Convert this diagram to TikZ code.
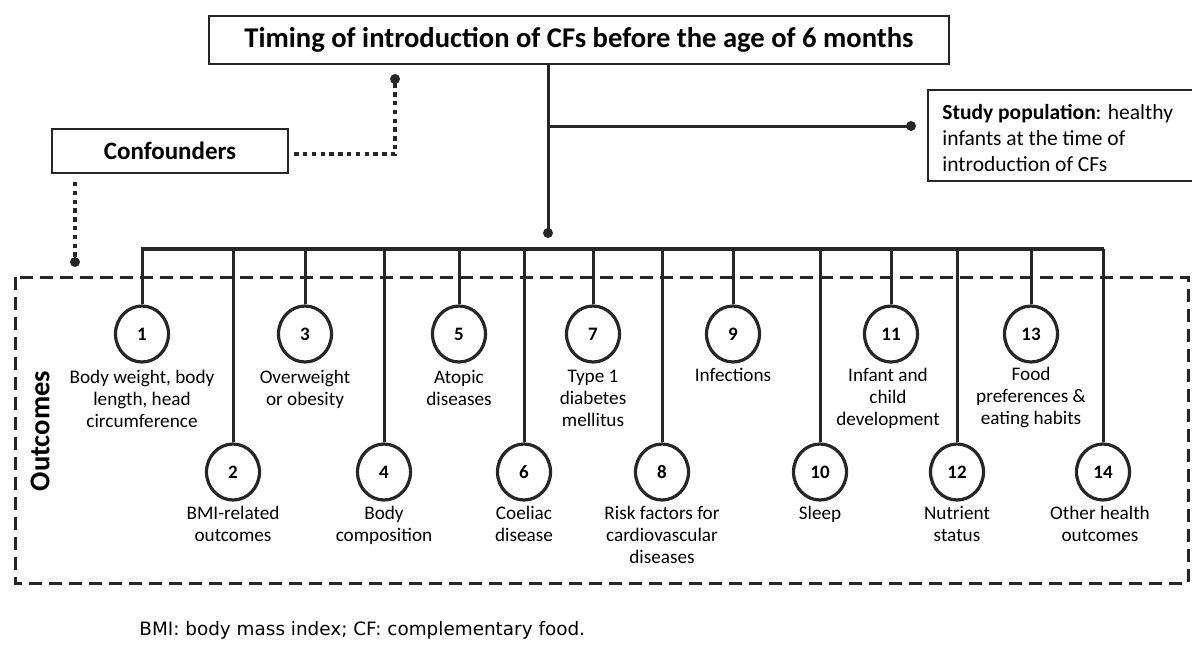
\documentclass[tikz,border=0pt]{standalone}
\usepackage{fontspec}
\usetikzlibrary{shapes.geometric}
\setmainfont{Carlito}
\newfontfamily\footfont{DejaVu Sans}
\begin{document}
\begin{tikzpicture}[x=0.5pt,y=-0.5pt,
  boxstyle/.style={draw=black!85,line width=1.1pt,inner sep=0pt},
  numcirc/.style={draw=black!85,line width=1.6pt,ellipse,minimum width=26.5pt,minimum height=28pt,inner sep=0pt,font=\bfseries\fontsize{9.5}{10}\selectfont},
  lbl/.style={align=center,anchor=north,inner sep=0pt,font=\fontsize{9.6}{11}\selectfont},
  stem/.style={draw=black!85,line width=1.5pt},
  thick bar/.style={draw=black!85,line width=2pt},
  dotline/.style={draw=black!85,line width=1.6pt,dash pattern=on 2.2pt off 2.2pt},
  dotend/.style={circle,fill=black!85,inner sep=0pt,minimum size=5pt},
]
\useasboundingbox (0,0) rectangle (1192,644);
% boxes
\node[boxstyle,minimum width=370pt,minimum height=24pt,font=\bfseries\fontsize{14.3}{16}\selectfont] (title) at (579,40) {Timing of introduction of CFs before the age of 6 months};
\node[boxstyle,minimum width=118pt,minimum height=22pt,font=\bfseries\fontsize{12.5}{14}\selectfont] (conf) at (170,151) {Confounders};
\draw[draw=black!85,line width=1.1pt] (1196,90) -- (928,90) -- (928,181) -- (1196,181);
\node[anchor=north west,align=left,inner sep=0pt,font=\fontsize{10.75}{13}\selectfont] (study) at (942,104) {\textbf{Study population}: healthy\\infants at the time of\\introduction of CFs};
% outcome area
\draw[draw=black!85,line width=1.5pt,dash pattern=on 6.5pt off 3.5pt] (15,277) rectangle (1188,583);
\node[rotate=90,inner sep=0pt,font=\bfseries\fontsize{14.3}{16}\selectfont] (outc) at (40,431) {Outcomes};
% trunk and branch
\coordinate (tdot) at (548,233);
\coordinate (bj) at (548,126);
\coordinate (sdot) at (911,126);
\draw[stem] (title.south -| tdot) -- (tdot);
\draw[stem] (bj) -- (sdot);
\node[dotend] at (tdot) {};
\node[dotend] at (sdot) {};
% confounder dotted links
\coordinate (cdA) at (395,154);
\coordinate (cdB) at (395,79);
\coordinate (cdC) at (75,182);
\coordinate (cdD) at (75,262);
\draw[dotline] ([xshift=2.5pt]conf.east |- cdA) -- (cdA) -- (cdB);
\node[dotend] at (cdB) {};
\draw[dotline] (cdC) -- (cdD);
\node[dotend] at (cdD) {};
% bar
\coordinate (barL) at (141,249);
\coordinate (barR) at (1104,249);
\draw[thick bar] (barL) -- (barR);
% circles
\foreach \n/\x/\y in {1/142/334,3/305/334,5/459/334,7/593/334,9/733/334,11/891/334,13/1031/334,
                     2/233/472,4/384/472,6/524/472,8/662/472,10/820/472,12/957/472,14/1103/472}{
  \node[numcirc] (c\n) at (\x,\y) {\n};
  \coordinate (b\n) at (\x,249);
  \draw[stem] (b\n) -- (c\n.north);
}
% labels
\node[lbl] (l1) at (142,370) {Body weight, body\\length, head\\circumference};
\node[lbl] (l3) at (305,370) {Overweight\\or obesity};
\node[lbl] (l5) at (459,370) {Atopic\\diseases};
\node[lbl] (l7) at (593,370) {Type 1\\diabetes\\mellitus};
\node[lbl] (l9) at (733,368) {Infections};
\node[lbl] (l11) at (888,368) {Infant and\\child\\development};
\node[lbl] (l13) at (1031,367) {Food\\preferences \&\\eating habits};
\node[lbl] (l2) at (233,506) {BMI-related\\outcomes};
\node[lbl] (l4) at (384,506) {Body\\composition};
\node[lbl] (l6) at (524,506) {Coeliac\\disease};
\node[lbl] (l8) at (662,506) {Risk factors for\\cardiovascular\\diseases};
\node[lbl] (l10) at (820,506) {Sleep};
\node[lbl] (l12) at (957,506) {Nutrient\\status};
\node[lbl] (l14) at (1100,506) {Other health\\outcomes};
% footer
\node[anchor=west,inner sep=0pt,font=\footfont\fontsize{9.2}{10}\selectfont] (foot) at (139,630) {BMI: body mass index; CF: complementary food.};
\end{tikzpicture}
\end{document}
